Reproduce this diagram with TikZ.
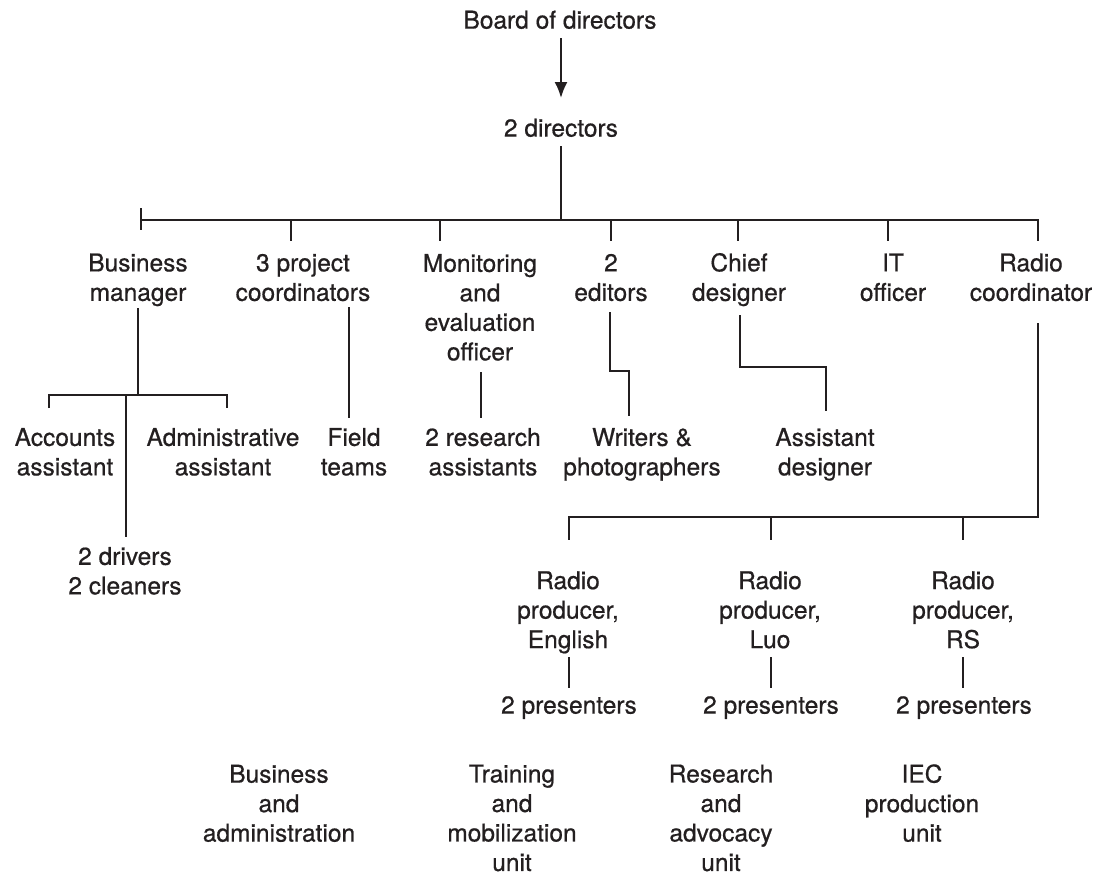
\documentclass[tikz,border=0pt]{standalone}
\usepackage{fontspec}
\setmainfont{TeX Gyre Heros}[FakeBold=0.6]
\usetikzlibrary{arrows.meta}
\definecolor{ink}{HTML}{231F20}
\newcommand\ls{\rule[-6.15pt]{0pt}{29.5pt}}
\newcommand\lsz{\rule{0pt}{23.35pt}}
\tikzset{
  lbl/.style={align=center, inner sep=0pt, text=ink, font=\fontsize{24.5}{29.5}\selectfont},
  link/.style={draw=ink, line width=2pt},
}
\begin{document}
\begin{tikzpicture}[x=1pt,y=-1pt]
\useasboundingbox[fill=white] (0,0) rectangle (1099,873);
% nodes
\node[lbl] (board) at (560,20) {Board of directors\ls};
\node[lbl] (dirs) at (561,128) {2 directors\ls};
\node[lbl] (bm) at (138,277.5) {Business\ls\\manager\ls};
\node[lbl] (pc) at (303,277.5) {3 project\ls\\coordinators\ls};
\node[lbl] (me) at (480,307.5) {Monitoring\ls\\and\ls\\evaluation\ls\\officer\ls};
\node[lbl] (ed) at (611,277.5) {2\ls\\editors\ls};
\node[lbl] (cd) at (739,277.5) {Chief\ls\\designer\ls};
\node[lbl] (it) at (893,277.5) {IT\ls\\officer\ls};
\node[lbl] (rc) at (1031,277.5) {Radio\ls\\coordinator\ls};
\node[lbl] (acc) at (65,452) {Accounts\ls\\assistant\ls};
\node[lbl] (adm) at (223,452) {Administrative\ls\\assistant\ls};
\node[lbl] (drv) at (125,571) {2 drivers\ls\\2 cleaners\ls};
\node[lbl] (ft) at (354,452) {Field\ls\\teams\ls};
\node[lbl] (ra) at (483,452) {2 research\ls\\assistants\ls};
\node[lbl] (wp) at (642,452) {Writers \&\ls\\photographers\ls};
\node[lbl] (ad) at (825,452) {Assistant\ls\\designer\ls};
\node[lbl] (rpe) at (568,610) {Radio\ls\\producer,\ls\\English\ls};
\node[lbl] (rpl) at (770,610) {Radio\ls\\producer,\ls\\Luo\ls};
\node[lbl] (rpr) at (963,610) {Radio\ls\\producer,\ls\\RS\ls};
\node[lbl] (p1) at (569,705) {2 presenters\ls};
\node[lbl] (p2) at (771,705) {2 presenters\ls};
\node[lbl] (p3) at (964,705) {2 presenters\ls};
\node[lbl] (uba) at (279,803.5) {Business\ls\\and\ls\\administration\ls};
\node[lbl] (utm) at (512,815.2) {Training\ls\\and\ls\\mobilization\ls\\unit\lsz};
\node[lbl] (ura) at (721,815.2) {Research\ls\\and\ls\\advocacy\ls\\unit\lsz};
\node[lbl] (uiec) at (922,803.5) {IEC\ls\\production\ls\\unit\ls};
% coordinates
\coordinate (a1) at (561,38);
\coordinate (a2) at (561,98);
\coordinate (d1) at (561,146);
\coordinate (d2) at (561,220);
\coordinate (barL) at (141,220);
\coordinate (barR) at (1038,220);
\coordinate (tkT) at (141,208);
\coordinate (tkB) at (141,230);
\foreach \n/\x in {pc/291, me/440, ed/611, cd/738, it/888}{
  \coordinate (t\n a) at (\x,220);
  \coordinate (t\n b) at (\x,241);
}
% lines
\draw[link, -{Latex[length=16pt,width=13pt]}] (a1) -- (a2);
\draw[link] (d1) -- (d2);
\draw[link] (barL) -- (barR) -- (1038,241);
\draw[link] (tkT) -- (tkB);
\foreach \n in {pc,me,ed,cd,it}{
  \draw[link] (t\n a) -- (t\n b);
}
% business manager
\coordinate (bm1) at (138,308);
\coordinate (bm2) at (138,395);
\coordinate (sbL) at (49,395);
\coordinate (sbR) at (227,395);
\draw[link] (bm1) -- (bm2);
\draw[link] (49,408) -- (sbL) -- (sbR) -- (227,408);
\coordinate (dv1) at (126,395);
\coordinate (dv2) at (126,537);
\draw[link] (dv1) -- (dv2);
% field teams
\coordinate (ft1) at (349,307);
\coordinate (ft2) at (349,418);
\draw[link] (ft1) -- (ft2);
% research assistants
\coordinate (ra1) at (481,372);
\coordinate (ra2) at (481,418);
\draw[link] (ra1) -- (ra2);
% editors
\coordinate (ed1) at (610,312);
\coordinate (ed2) at (629,416);
\draw[link] (ed1) |- (620,371) -| (ed2);
% chief designer
\coordinate (cd1) at (740,315);
\coordinate (cd2) at (826,411);
\draw[link] (cd1) |- (780,367) -| (cd2);
% radio
\coordinate (rc1) at (1038,323);
\coordinate (rbR) at (1038,517);
\coordinate (rbL) at (569,517);
\draw[link] (rc1) -- (rbR) -- (rbL) -- (569,540);
\draw[link] (771,517) -- (771,540);
\draw[link] (963,517) -- (963,540);
\draw[link] (569,657) -- (569,688);
\draw[link] (771,657) -- (771,688);
\draw[link] (963,657) -- (963,688);
\end{tikzpicture}
\end{document}
